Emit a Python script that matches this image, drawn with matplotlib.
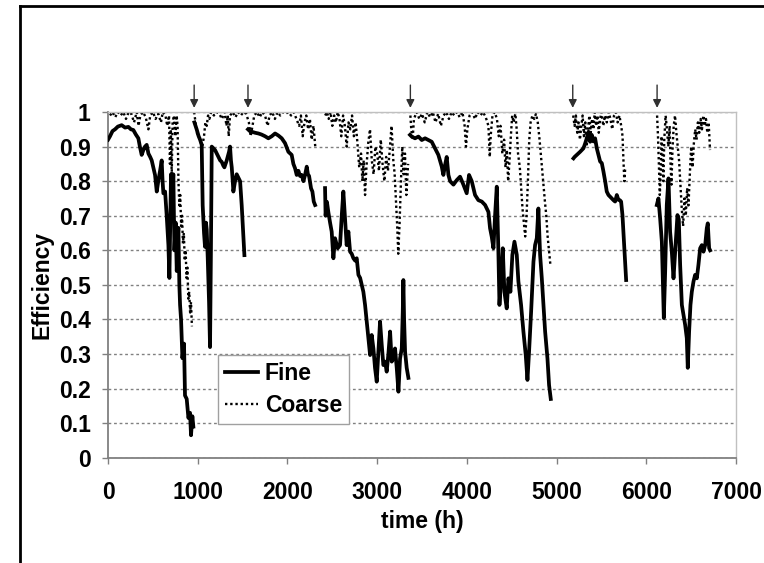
import numpy as np
import matplotlib
matplotlib.use('Agg')
import matplotlib.pyplot as plt
from matplotlib.lines import Line2D

nan = float('nan')

# ---------------- data ----------------
fine_time = [
    0, 22, 50, 78, 110, 152, 190, 227, 255, 282, 310, 338, 355, 375, 394, 412, 431, 450, 470, 487,
    505, 524, 543, 560, 580, 598, 608, 617, 636, 654, 673, 684, 702, 715, 728, 740, 754, 766, 784,
    795, 803, 814, 829, 847, 858, 877, 896, 914, 925, 940, 951, nan,
    963, 988, 1010, 1026, 1044, 1055, 1070, 1081, 1092, 1100, 1111, 1126, 1137, 1147, 1156, 1175,
    1193, 1212, 1230, 1250, 1267, 1285, 1297, 1310, 1323, 1349, 1360, 1370, 1379, 1390, 1397, 1416,
    1434, 1453, 1472, 1490, 1505, 1520, nan,
    1560, 1580, 1602, 1640, 1676, 1710, 1750, 1787, 1825, 1862, 1899, 1936, 1973, 2010, 2030, 2047,
    2066, 2085, 2103, 2122, 2140, 2159, 2178, 2196, 2215, 2228, 2241, 2263, 2278, 2293, 2308, nan,
    2419, 2425, 2440, 2456, 2475, 2493, 2512, 2530, 2560, 2586, 2605, 2623, 2642, 2660, 2679, 2698,
    2716, 2735, 2755, 2772, 2791, 2810, 2828, 2846, 2865, 2883, 2902, 2921, 2939, 2958, 2976, 2995,
    3013, 3032, 3051, 3069, 3088, 3106, 3125, 3144, 3162, 3181, 3199, 3218, 3237, 3255, 3274, 3285,
    3292, 3300, 3311, 3329, 3348, nan,
    3366, 3385, 3422, 3460, 3497, 3534, 3571, 3608, 3645, 3682, 3720, 3738, 3757, 3775, 3794, 3813,
    3850, 3887, 3924, 3961, 3998, 4024, 4054, 4091, 4128, 4166, 4203, 4240, 4258, 4277, 4296, 4314,
    4333, 4351, 4363, 4381, 4400, 4418, 4444, 4463, 4485, 4507, 4530, 4556, 4574, 4604, 4630, 4656,
    4675, 4693, 4716, 4742, 4760, 4779, 4797, 4816, 4835, 4853, 4872, 4898, 4916, 4935, nan,
    5188, 5200, 5225, 5262, 5299, 5318, 5336, 5355, 5374, 5392, 5410, 5429, 5448, 5467, 5485, 5504,
    5522, 5541, 5559, 5578, 5597, 5615, 5634, 5652, 5671, 5689, 5705, 5719, 5734, 5749, 5764, 5775, nan,
    6117, 6135, 6154, 6173, 6184, 6195, 6210, 6228, 6247, 6265, 6284, 6303, 6321, 6335, 6347, 6362,
    6377, 6396, 6414, 6433, 6451, 6462, 6477, 6492, 6507, 6526, 6544, 6563, 6581, 6600, 6619, 6637,
    6656, 6674, 6685, 6700, 6711,
]
fine_eff = [
    0.92, 0.93, 0.945, 0.95, 0.958, 0.962, 0.955, 0.957, 0.95, 0.948, 0.935, 0.924, 0.90, 0.876, 0.89, 0.90, 0.905, 0.88, 0.87, 0.86,
    0.84, 0.818, 0.77, 0.80, 0.83, 0.86, 0.80, 0.765, 0.77, 0.70, 0.615, 0.52, 0.82, 0.75, 0.82, 0.60, 0.68, 0.54, 0.665,
    0.50, 0.442, 0.40, 0.288, 0.33, 0.18, 0.17, 0.115, 0.13, 0.065, 0.12, 0.09, nan,
    0.97, 0.95, 0.93, 0.92, 0.905, 0.73, 0.65, 0.61, 0.68, 0.66, 0.58, 0.45, 0.32, 0.60, 0.90, 0.895,
    0.89, 0.88, 0.87, 0.86, 0.856, 0.845, 0.84, 0.85, 0.86, 0.885, 0.90, 0.86, 0.84, 0.80, 0.77, 0.80,
    0.82, 0.81, 0.80, 0.73, 0.66, 0.586, nan,
    0.95, 0.945, 0.943, 0.94, 0.938, 0.935, 0.93, 0.924, 0.93, 0.938, 0.932, 0.924, 0.91, 0.885, 0.88, 0.876,
    0.85, 0.837, 0.818, 0.83, 0.815, 0.818, 0.80, 0.818, 0.842, 0.82, 0.815, 0.779, 0.77, 0.741, 0.731, nan,
    0.78, 0.70, 0.74, 0.71, 0.68, 0.654, 0.577, 0.635, 0.606, 0.615, 0.70, 0.77, 0.692, 0.615, 0.654, 0.596,
    0.59, 0.577, 0.57, 0.577, 0.529, 0.52, 0.50, 0.48, 0.442, 0.394, 0.346, 0.297, 0.355, 0.316, 0.26, 0.22,
    0.307, 0.394, 0.326, 0.268, 0.278, 0.249, 0.30, 0.365, 0.278, 0.287, 0.316, 0.26, 0.191, 0.287, 0.316, 0.42,
    0.514, 0.40, 0.307, 0.26, 0.231, nan,
    0.934, 0.929, 0.924, 0.929, 0.919, 0.924, 0.919, 0.914, 0.895, 0.876, 0.842, 0.818, 0.847, 0.87, 0.818, 0.80,
    0.79, 0.803, 0.813, 0.79, 0.765, 0.818, 0.80, 0.76, 0.745, 0.741, 0.731, 0.711, 0.664, 0.639, 0.606, 0.70,
    0.784, 0.596, 0.442, 0.519, 0.606, 0.48, 0.432, 0.519, 0.48, 0.587, 0.625, 0.587, 0.51, 0.442, 0.365, 0.297,
    0.225, 0.307, 0.423, 0.567, 0.615, 0.635, 0.721, 0.587, 0.519, 0.442, 0.365, 0.287, 0.21, 0.17, nan,
    0.866, 0.87, 0.876, 0.885, 0.895, 0.909, 0.924, 0.943, 0.914, 0.934, 0.915, 0.924, 0.895, 0.876, 0.857, 0.852,
    0.828, 0.80, 0.77, 0.76, 0.755, 0.75, 0.745, 0.741, 0.76, 0.746, 0.745, 0.741, 0.702, 0.635, 0.567, 0.514, nan,
    0.731, 0.75, 0.692, 0.625, 0.519, 0.404, 0.538, 0.731, 0.808, 0.654, 0.596, 0.519, 0.596, 0.66, 0.702, 0.69,
    0.558, 0.442, 0.413, 0.384, 0.346, 0.26, 0.365, 0.442, 0.48, 0.51, 0.529, 0.519, 0.558, 0.606, 0.615, 0.596,
    0.615, 0.664, 0.678, 0.606, 0.60,
]

coarse_time = [
    22, 50, 80, 110, 140, 170, 200, 230, 260, 290, 320, 340, 360, 390, 420, 450, 470, 500, 530, 560,
    590, 610, 640, 660, 680, 690, 700, 710, 720, 735, 750, 765, 775, 785, 795, 805, 815, 825, 835,
    845, 855, 865, 875, 885, 895, 905, 915, 925, 935, nan,
    960, 975, 990, 1010, 1030, 1050, 1070, 1085, 1100, 1115, 1130, 1150, 1180, 1210, 1240, 1270, 1300,
    1320, 1335, 1345, 1360, 1390, 1420, 1450, 1480, 1510, 1540,
    1570, 1590, 1610, 1630, 1660, 1690, 1720, 1750, 1780, 1800, 1830, 1860, 1890, 1920, 1950, 1980,
    2010, 2040, 2070, 2100, 2130, 2150, 2170, 2190, 2210, 2230, 2250, 2270, 2290, 2310, nan,
    2420, 2440, 2460, 2480, 2500, 2520, 2540, 2560, 2580, 2600, 2620, 2640, 2660, 2680, 2700, 2720,
    2740, 2760, 2780, 2800, 2820, 2835, 2850, 2865, 2880, 2900, 2920, 2940, 2960, 2980, 3000, 3020,
    3040, 3060, 3080, 3100, 3120, 3140, 3160, 3180, 3195, 3210, 3225, 3235, 3250, 3265, 3280, 3295,
    3310, 3325, 3345, nan,
    3370, 3380, 3395, 3410, 3440, 3470, 3500, 3530, 3560, 3590, 3620, 3650, 3680, 3710, 3740, 3770,
    3800, 3830, 3860, 3890, 3920, 3950, 3975, 3990, 4005, 4030, 4060, 4090, 4120, 4150, 4180, 4210,
    4240, 4255, 4265, 4285, 4310, 4335, 4355, 4375, 4395, 4415, 4430, 4445, 4460, 4475, 4490, 4505,
    4520, 4540, 4555, 4570, 4590, 4605, 4620, 4635, 4650, 4665, 4680, 4695, 4710, 4730, 4750, 4770,
    4790, 4810, 4830, 4850, 4870, 4885, 4900, 4915, 4930, nan,
    5185, 5200, 5215, 5230, 5245, 5260, 5275, 5290, 5305, 5320, 5335, 5350, 5365, 5380, 5395, 5410,
    5425, 5440, 5455, 5470, 5485, 5500, 5520, 5540, 5560, 5580, 5600, 5620, 5640, 5660, 5680, 5700,
    5720, 5735, 5745, 5755, 5765, nan,
    6120, 6130, 6140, 6150, 6160, 6170, 6180, 6190, 6200, 6215, 6230, 6245, 6260, 6270, 6280, 6290,
    6305, 6320, 6335, 6350, 6365, 6380, 6395, 6410, 6425, 6440, 6455, 6470, 6485, 6500, 6515, 6530,
    6545, 6560, 6575, 6590, 6605, 6620, 6635, 6650, 6665, 6680, 6695, 6710,
]
coarse_eff = [
    0.99, 1.0, 0.985, 1.0, 0.99, 1.0, 0.98, 1.0, 0.995, 0.97, 1.0, 0.96, 0.99, 1.0, 0.985, 0.95, 0.99, 1.0, 0.98, 0.995,
    0.97, 1.0, 0.99, 0.96, 0.99, 0.85, 0.95, 0.82, 0.97, 0.99, 0.93, 0.99, 0.96, 0.80, 0.73, 0.76, 0.67, 0.70, 0.62,
    0.65, 0.57, 0.60, 0.52, 0.55, 0.46, 0.48, 0.42, 0.45, 0.38, nan,
    1.0, 0.97, 0.94, 0.93, 0.915, 0.90, 0.93, 0.97, 0.96, 0.99, 0.98, 1.0, 0.99, 1.0, 0.995, 0.98, 1.0,
    0.96, 0.99, 0.93, 0.99, 1.0, 0.985, 1.0, 0.99, 1.0, 0.995,
    0.97, 0.93, 0.96, 0.99, 1.0, 0.985, 1.0, 0.99, 0.96, 0.99, 1.0, 0.98, 1.0, 0.99, 1.0, 0.995,
    1.0, 0.99, 1.0, 0.98, 0.96, 0.99, 0.93, 0.97, 0.99, 0.95, 0.98, 0.92, 0.96, 0.90, nan,
    0.99, 1.0, 0.98, 1.0, 0.96, 0.99, 0.97, 1.0, 0.98, 0.93, 0.99, 0.96, 0.90, 0.97, 0.95, 0.99,
    0.93, 0.97, 0.91, 0.84, 0.88, 0.80, 0.86, 0.76, 0.84, 0.91, 0.95, 0.86, 0.82, 0.90, 0.88, 0.83,
    0.92, 0.85, 0.80, 0.87, 0.83, 0.89, 0.96, 0.86, 0.82, 0.74, 0.66, 0.59, 0.68, 0.80, 0.90, 0.82,
    0.88, 0.76, 0.85, nan,
    0.99, 0.95, 0.92, 0.98, 1.0, 0.98, 0.995, 0.97, 1.0, 0.985, 1.0, 0.97, 0.995, 0.96, 0.99, 1.0,
    0.98, 1.0, 0.99, 1.0, 0.985, 1.0, 0.96, 0.90, 0.95, 0.99, 1.0, 0.98, 1.0, 0.99, 1.0, 0.985,
    0.96, 0.87, 0.93, 0.99, 1.0, 0.98, 0.93, 0.96, 0.88, 0.92, 0.84, 0.89, 0.80, 0.86, 0.93, 0.99,
    0.97, 0.995, 0.95, 0.88, 0.84, 0.78, 0.72, 0.68, 0.64, 0.70, 0.80, 0.92, 0.97, 0.99, 0.98, 0.995,
    0.97, 0.92, 0.86, 0.80, 0.74, 0.70, 0.64, 0.60, 0.56, nan,
    0.99, 0.96, 0.99, 0.94, 0.97, 0.92, 0.96, 0.99, 0.93, 0.97, 0.90, 0.95, 0.99, 0.94, 0.98, 0.95,
    1.0, 0.96, 0.99, 0.94, 0.98, 1.0, 0.96, 0.99, 0.97, 1.0, 0.98, 0.95, 0.99, 1.0, 0.97, 0.99,
    0.96, 0.93, 0.86, 0.80, 0.84, nan,
    0.99, 0.93, 0.85, 0.76, 0.82, 0.93, 0.88, 0.80, 0.92, 0.99, 0.95, 0.90, 0.96, 0.85, 0.79, 0.88,
    0.96, 0.99, 0.94, 0.90, 0.86, 0.79, 0.72, 0.67, 0.75, 0.70, 0.78, 0.73, 0.82, 0.90, 0.84, 0.91,
    0.95, 0.92, 0.97, 0.94, 0.98, 0.95, 0.99, 0.96, 0.98, 0.94, 0.97, 0.89,
]

arrow_times = [960, 1560, 3370, 5180, 6120]
x_ticks = [0, 1000, 2000, 3000, 4000, 5000, 6000, 7000]
y_ticks = [0, 0.1, 0.2, 0.3, 0.4, 0.5, 0.6, 0.7, 0.8, 0.9, 1.0]
y_tick_labels = ['0', '0.1', '0.2', '0.3', '0.4', '0.5', '0.6', '0.7', '0.8', '0.9', '1']

# ---------------- style ----------------
plt.rcParams['font.family'] = ['Liberation Sans', 'DejaVu Sans']
plt.rcParams['font.weight'] = 'bold'

fig = plt.figure(figsize=(7.64, 5.63), dpi=100)
fig.patch.set_facecolor('white')
ax = fig.add_axes([0.1414, 0.187, 0.822, 0.614])

ax.set_axisbelow(True)
ax.yaxis.grid(True, color='#808080', lw=1.0, ls=(0, (2, 2)))

coarse_line, = ax.plot(coarse_time, coarse_eff, color='black', lw=1.7,
                       ls=(0, (1, 1.2)), zorder=2, label='Coarse')
fine_line, = ax.plot(fine_time, fine_eff, color='black', lw=2.7,
                     solid_joinstyle='round', zorder=3, label='Fine')

ax.set_xlim(0, 7000)
ax.set_ylim(0, 1)
ax.set_xticks(x_ticks)
ax.set_xticklabels([str(t) for t in x_ticks])
ax.set_yticks(y_ticks)
ax.set_yticklabels(y_tick_labels)

for s in ['left', 'bottom']:
    ax.spines[s].set_color('#808080')
    ax.spines[s].set_linewidth(1.3)
for s in ['top', 'right']:
    ax.spines[s].set_color('#c0c0c0')
    ax.spines[s].set_linewidth(1.0)

ax.tick_params(axis='both', direction='out', length=4.5, width=1.0,
               color='#808080', labelsize=16.5)
ax.tick_params(axis='x', pad=12)
ax.tick_params(axis='y', pad=8)

ax.set_xlabel('time (h)', fontsize=16.5, fontweight='bold')
ax.set_ylabel('Efficiency', fontsize=16.5, fontweight='bold')
ax.xaxis.set_label_coords(0.5, -0.152)
ax.yaxis.set_label_coords(-0.087, 0.5)

for t in arrow_times:
    ax.annotate('', xy=(t, 1.012), xytext=(t, 1.078), xycoords='data',
                arrowprops=dict(arrowstyle='-|>', color='#303030', lw=1.0,
                                mutation_scale=12, shrinkA=0, shrinkB=0),
                annotation_clip=False)

leg = ax.legend(handles=[fine_line, coarse_line], loc='upper left',
                bbox_to_anchor=(0.175, 0.297), frameon=True, fancybox=False,
                edgecolor='#a0a0a0', framealpha=1, fontsize=16.5,
                handlelength=1.45, borderpad=0.3, labelspacing=0.4,
                handletextpad=0.3, borderaxespad=0)
leg.get_frame().set_linewidth(1.0)

# outer frame lines (top and left)
fig.add_artist(Line2D([0.0262, 1.0], [0.9893, 0.9893], transform=fig.transFigure,
                      color='black', lw=2.0))
fig.add_artist(Line2D([0.0262, 0.0262], [0.0, 0.9893], transform=fig.transFigure,
                      color='black', lw=2.0))

fig.savefig('out.png', dpi=100, facecolor='white')
